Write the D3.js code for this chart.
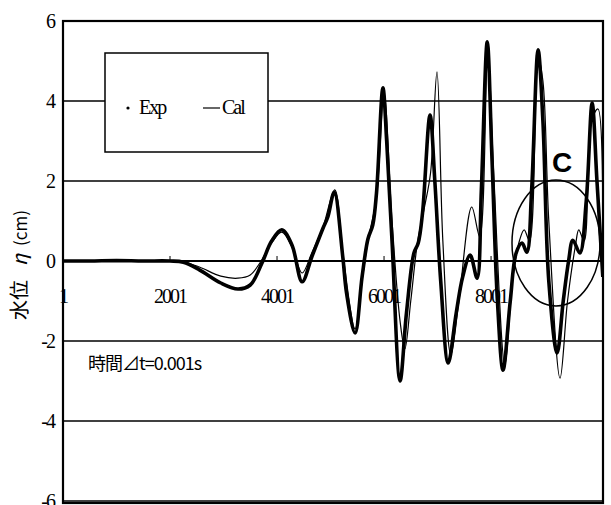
<!DOCTYPE html>
<html>
<head>
<meta charset="utf-8">
<script src="https://cdn.jsdelivr.net/npm/d3@7"></script>
<style>
  body { margin: 0; background: #fff; }
  svg { display: block; }
  .num { font-family: "Liberation Serif", "DejaVu Serif", serif; font-size: 20px; letter-spacing: -2px; fill: #000; }
  .jp { font-family: "Noto Sans CJK JP", sans-serif; fill: #000; }
</style>
</head>
<body>
<div id="chart"></div>
<script>
// time step index (t) and water level (cm)
var expT = [1, 500, 1000, 1500, 2000, 2250, 2550, 2950, 3270, 3500, 3720, 3900, 4090, 4280, 4470, 4650, 4860, 4950, 5070,
  5230, 5300, 5460, 5590, 5700, 5790, 5860, 5980, 6050, 6150, 6300, 6420, 6560, 6640, 6720, 6860, 6950, 7060, 7200,
  7350, 7470, 7610, 7740, 7820, 7930, 8020, 8120, 8225, 8360, 8470, 8580, 8670, 8760, 8880, 8970, 9080, 9235,
  9350, 9450, 9530, 9660, 9780, 9890, 9980, 10090];
var expV = [0, 0, 0.01, 0, 0, -0.03, -0.22, -0.55, -0.7, -0.6, -0.05, 0.5, 0.78, 0.4, -0.52, 0.1, 0.82, 1.1, 1.72,
  0.1, -0.8, -1.8, -0.4, 0.55, 0.9, 1.7, 4.33, 3.0, 0.5, -3.0, -1.3, 0.2, 0.45, 1.2, 3.65, 2.0, -0.5, -2.55,
  -1.3, -0.4, 0.15, -0.43, 1.8, 5.48, 2.5, -1.0, -2.73, -1.0, 0.2, 0.45, 0.22, 1.8, 5.28, 3.5, -0.5, -2.3,
  -1.0, 0.0, 0.52, 0.2, 1.5, 3.95, 2.0, -0.4];

var calT = [1, 1000, 2000, 2250, 2550, 2950, 3270, 3500, 3680, 3900, 4090, 4280, 4470, 4650, 4860, 5080, 5230, 5460,
  5600, 5700, 5860, 6000, 6150, 6300, 6390, 6500, 6630, 6750, 6870, 6990, 7100, 7250, 7400, 7640, 7790, 7940,
  8050, 8260, 8400, 8530, 8620, 8720, 8880, 8970, 9080, 9290, 9430, 9580, 9640, 9740, 9880, 10000, 10090];
var calV = [0, 0, 0, -0.02, -0.15, -0.38, -0.43, -0.35, -0.05, 0.45, 0.72, 0.35, -0.3, 0.2, 0.85, 1.78, 0.2, -1.7,
  -0.4, 0.5, 1.6, 4.2, 1.0, -1.5, -2.2, -1.0, 0.5, 1.3, 2.2, 4.73, 0.5, -2.35, -1.0, 1.35, 0.6, 5.3,
  2.2, -2.6, -0.5, 0.5, 0.78, 0.5, 5.1, 4.5, 1.0, -2.93, -1.0, 0.4, 0.78, 0.5, 3.5, 3.8, 1.0];

var xTicks = [1, 2001, 4001, 6001, 8001];
var yTicks = [-6, -4, -2, 0, 2, 4, 6];

var W = 611, H = 505;
var svg = d3.select("#chart").append("svg").attr("width", W).attr("height", H);

var x = d3.scaleLinear().domain([1, 10093]).range([63, 603]);
var y = d3.scaleLinear().domain([-6, 6]).range([501, 21]);

// grid lines
svg.append("g").selectAll("line")
  .data(yTicks)
  .enter().append("line")
  .attr("x1", 63).attr("x2", 603)
  .attr("y1", function(d) { return y(d); })
  .attr("y2", function(d) { return y(d); })
  .attr("stroke", "#000")
  .attr("stroke-width", function(d) { return d === 0 ? 2 : 1.5; });

// y tick labels
svg.append("g").selectAll("text")
  .data(yTicks)
  .enter().append("text")
  .attr("class", "num")
  .attr("x", 54)
  .attr("y", function(d) { return y(d) + 7; })
  .attr("text-anchor", "end")
  .text(function(d) { return d; });

// x ticks on zero line
svg.append("g").selectAll("line")
  .data(xTicks.slice(1))
  .enter().append("line")
  .attr("x1", function(d) { return x(d); })
  .attr("x2", function(d) { return x(d); })
  .attr("y1", y(0)).attr("y2", y(0) - 5)
  .attr("stroke", "#000").attr("stroke-width", 1);

svg.append("g").selectAll("text")
  .data(xTicks)
  .enter().append("text")
  .attr("class", "num")
  .attr("x", function(d) { return x(d); })
  .attr("y", 303)
  .attr("text-anchor", "middle")
  .text(function(d) { return d; });

// legend box
svg.append("rect")
  .attr("x", 105).attr("y", 53).attr("width", 163).attr("height", 99)
  .attr("fill", "#fff").attr("stroke", "#000").attr("stroke-width", 1.5);
svg.append("circle").attr("cx", 128).attr("cy", 108).attr("r", 1.6).attr("fill", "#000");
svg.append("text").attr("class", "num").attr("x", 139).attr("y", 114).text("Exp");
svg.append("line").attr("x1", 203).attr("x2", 220).attr("y1", 108).attr("y2", 108)
  .attr("stroke", "#000").attr("stroke-width", 1.2);
svg.append("text").attr("class", "num").attr("x", 222).attr("y", 114).text("Cal");

// curves
var lineGen = d3.line()
  .x(function(d) { return x(d[0]); })
  .y(function(d) { return y(d[1]); })
  .curve(d3.curveCatmullRom.alpha(0.5));

svg.append("clipPath").attr("id", "plotclip")
  .append("rect").attr("x", 63).attr("y", 21).attr("width", 540).attr("height", 482);

var calData = d3.zip(calT, calV);
var expData = d3.zip(expT, expV);

svg.append("path")
  .datum(calData)
  .attr("clip-path", "url(#plotclip)")
  .attr("d", lineGen)
  .attr("fill", "none").attr("stroke", "#000").attr("stroke-width", 1.2);

svg.append("path")
  .datum(expData)
  .attr("clip-path", "url(#plotclip)")
  .attr("d", lineGen)
  .attr("fill", "none").attr("stroke", "#000").attr("stroke-width", 3.6)
  .attr("stroke-linejoin", "round");

// plot border
svg.append("rect")
  .attr("x", 63).attr("y", 21).attr("width", 540).attr("height", 482)
  .attr("fill", "none").attr("stroke", "#000").attr("stroke-width", 2.2);

// annotation C
svg.append("ellipse")
  .attr("cx", 556).attr("cy", 243).attr("rx", 44).attr("ry", 63)
  .attr("fill", "none").attr("stroke", "#000").attr("stroke-width", 1.5);
svg.append("text")
  .attr("x", 562).attr("y", 172)
  .attr("text-anchor", "middle")
  .style("font-family", "Liberation Sans, Arial, sans-serif")
  .style("font-weight", "bold").style("font-size", "28px")
  .text("C");

// time step note
svg.append("text").attr("class", "jp")
  .attr("x", 88).attr("y", 370)
  .style("font-size", "18px").style("letter-spacing", "-1px")
  .text("時間⊿t=0.001s");

// y axis title
var yTitle = svg.append("text").attr("class", "jp")
  .attr("transform", "translate(27,265) rotate(-90)")
  .attr("text-anchor", "middle")
  .style("font-size", "20px");
yTitle.append("tspan").text("水位");
yTitle.append("tspan").attr("dx", 14).style("font-style", "italic").text("η");
yTitle.append("tspan").attr("dx", 8).style("font-size", "17px").text("(cm)");
</script>
</body>
</html>
